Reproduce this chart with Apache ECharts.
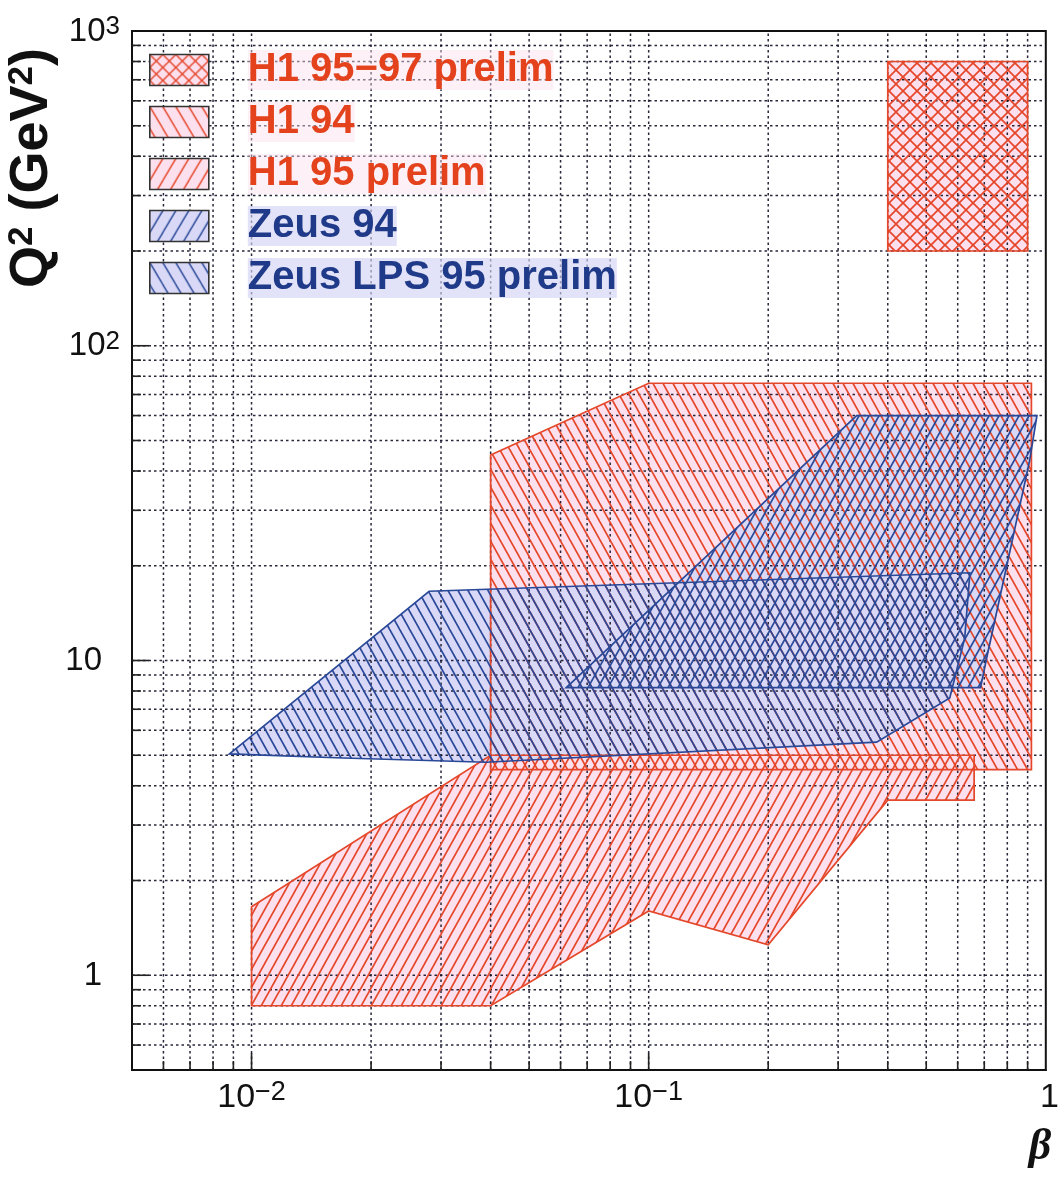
<!DOCTYPE html>
<html>
<head>
<meta charset="utf-8">
<script src="https://cdn.jsdelivr.net/npm/echarts@6/dist/echarts.min.js"></script>
<style>
  html, body { margin: 0; padding: 0; background: #ffffff; }
  #chart { width: 1062px; height: 1178px; }
</style>
</head>
<body>
<div id="chart"></div>
<script>
// Kinematic coverage of diffractive DIS measurements in the (beta, Q^2) plane.
// Each region is a closed polygon: beta values with the matching Q^2 values (GeV^2).

const h1_9597_beta = [0.4, 0.9, 0.9, 0.4];
const h1_9597_q2   = [200, 200, 800, 800];

const h1_94_beta = [0.04, 0.1, 0.92, 0.92, 0.04];
const h1_94_q2   = [45, 76, 76, 4.5, 4.5];

const h1_95_beta = [0.01, 0.04, 0.66, 0.66, 0.4, 0.2, 0.1, 0.04, 0.01];
const h1_95_q2   = [1.65, 5, 5, 3.6, 3.6, 1.25, 1.6, 0.8, 0.8];

const zeus_94_beta = [0.062, 0.334, 0.95, 0.91, 0.71, 0.685];
const zeus_94_q2   = [8.2, 60, 60, 43, 10.2, 8.2];

const zeus_lps95_beta = [0.0088, 0.028, 0.644, 0.625, 0.573, 0.375, 0.039, 0.017];
const zeus_lps95_q2   = [5.05, 16.6, 19, 11.8, 7.6, 5.5, 4.75, 4.9];

const regionNames = ['H1 95\u221297 prelim', 'H1 94', 'H1 95 prelim', 'Zeus 94', 'Zeus LPS 95 prelim'];

// Axis ranges and gridline positions
const BETA_MIN = 0.005, BETA_MAX = 1;
const Q2_MIN = 0.5, Q2_MAX = 1000;

const betaGrid = [0.006, 0.007, 0.008, 0.009,
                  0.01, 0.02, 0.03, 0.04, 0.05, 0.06, 0.07, 0.08, 0.09,
                  0.1, 0.2, 0.3, 0.4, 0.5, 0.6, 0.7, 0.8, 0.9];
const q2Grid = [0.6, 0.7, 0.8, 0.9,
                1, 2, 3, 4, 5, 6, 7, 8, 9,
                10, 20, 30, 40, 50, 60, 70, 80, 90,
                100, 200, 300, 400, 500, 600, 700, 800, 900];

// Tick labels: base and exponent
const betaTickValues = [0.01, 0.1, 1];
const betaTickBase   = ['10', '10', '1'];
const betaTickExp    = ['\u22122', '\u22121', ''];
const q2TickValues = [1, 10, 100, 1000];
const q2TickBase   = ['1', '10', '10', '10'];
const q2TickExp    = ['', '', '2', '3'];

// Colours
const RED_LINE = '#e4472a';
const BLUE_LINE = '#2a4898';
const PINK_FILL = '#fde0ee';
const LAVENDER_FILL = '#d9d9f7';
const FONT = '"Liberation Sans", Arial, Helvetica, sans-serif';

// Repeating hatch tile: 'up' = rising lines (///), 'down' = falling (\\\), 'cross' = both
function hatch(kind, color, w, h, lineWidth, bg) {
  const c = document.createElement('canvas');
  c.width = w; c.height = h;
  const g = c.getContext('2d');
  if (bg) { g.fillStyle = bg; g.fillRect(0, 0, w, h); }
  g.strokeStyle = color;
  g.lineWidth = lineWidth;
  const family = function (rising) {
    for (let k = -2; k <= 2; k++) {
      g.beginPath();
      if (rising) { g.moveTo(k * w - w, 2 * h); g.lineTo(k * w + 2 * w, -h); }
      else        { g.moveTo(k * w - w, -h);    g.lineTo(k * w + 2 * w, 2 * h); }
      g.stroke();
    }
  };
  if (kind === 'up' || kind === 'cross') family(true);
  if (kind === 'down' || kind === 'cross') family(false);
  return { image: c, repeat: 'repeat' };
}

const regions = [
  { name: regionNames[0], beta: h1_9597_beta, q2: h1_9597_q2, kind: 'cross', w: 14, h: 14, line: RED_LINE, fill: PINK_FILL },
  { name: regionNames[1], beta: h1_94_beta, q2: h1_94_q2, kind: 'down', w: 10, h: 18, line: RED_LINE, fill: PINK_FILL },
  { name: regionNames[2], beta: h1_95_beta, q2: h1_95_q2, kind: 'up', w: 10, h: 18, line: RED_LINE, fill: PINK_FILL },
  { name: regionNames[3], beta: zeus_94_beta, q2: zeus_94_q2, kind: 'up', w: 10, h: 18, line: BLUE_LINE, fill: LAVENDER_FILL },
  { name: regionNames[4], beta: zeus_lps95_beta, q2: zeus_lps95_q2, kind: 'down', w: 10, h: 18, line: BLUE_LINE, fill: LAVENDER_FILL }
];

function polygonRenderer(beta, q2, style) {
  return function (params, api) {
    if (params.dataIndex !== 0) return null;
    const pts = beta.map(function (b, i) { return api.coord([b, q2[i]]); });
    return { type: 'polygon', shape: { points: pts }, style: style };
  };
}

function verticesOf(r) { return r.beta.map(function (b, i) { return [b, r.q2[i]]; }); }

const isDecade = function (v) { const e = Math.log10(v); return Math.abs(e - Math.round(e)) < 1e-6; };
const GRID_LINE = { stroke: 'rgba(15,15,35,0.9)', lineWidth: 1.5, lineDash: [2.5, 3] };
const TICK_LINE = { stroke: '#222', lineWidth: 1.6 };

const series = [];

// Solid fills underneath everything
regions.forEach(function (r) {
  series.push({
    type: 'custom', coordinateSystem: 'cartesian2d', silent: true, z: 2,
    data: verticesOf(r),
    renderItem: polygonRenderer(r.beta, r.q2, { fill: r.fill, stroke: null })
  });
});

// Dotted grid with inward ticks
series.push({
  type: 'custom', coordinateSystem: 'cartesian2d', silent: true, z: 3,
  data: betaGrid.map(function (v) { return [v, Q2_MIN]; }),
  renderItem: function (params, api) {
    const v = api.value(0);
    const p0 = api.coord([v, Q2_MIN]);
    const p1 = api.coord([v, Q2_MAX]);
    const len = isDecade(v) ? 17 : 9;
    return { type: 'group', children: [
      { type: 'line', shape: { x1: p0[0], y1: p0[1], x2: p1[0], y2: p1[1] }, style: GRID_LINE },
      { type: 'line', shape: { x1: p0[0], y1: p0[1], x2: p0[0], y2: p0[1] - len }, style: TICK_LINE }
    ] };
  }
});
series.push({
  type: 'custom', coordinateSystem: 'cartesian2d', silent: true, z: 3,
  data: q2Grid.map(function (v) { return [BETA_MIN, v]; }),
  renderItem: function (params, api) {
    const v = api.value(1);
    const p0 = api.coord([BETA_MIN, v]);
    const p1 = api.coord([BETA_MAX, v]);
    const len = isDecade(v) ? 17 : 9;
    return { type: 'group', children: [
      { type: 'line', shape: { x1: p0[0], y1: p0[1], x2: p1[0], y2: p1[1] }, style: GRID_LINE },
      { type: 'line', shape: { x1: p0[0], y1: p0[1], x2: p0[0] + len, y2: p0[1] }, style: TICK_LINE }
    ] };
  }
});

// Hatched regions with outlines
regions.forEach(function (r) {
  series.push({
    type: 'custom', coordinateSystem: 'cartesian2d', silent: true, z: 4,
    name: r.name,
    data: verticesOf(r),
    renderItem: polygonRenderer(r.beta, r.q2, {
      fill: hatch(r.kind, r.line, r.w, r.h, 1.7, null),
      stroke: r.line, lineWidth: 1.7
    })
  });
});

function tickLabel(values, bases, exps, v, padPlain) {
  for (let i = 0; i < values.length; i++) {
    if (Math.abs(Math.log10(v) - Math.log10(values[i])) < 1e-6) {
      if (exps[i]) return '{b|' + bases[i] + '}{s|' + exps[i] + '}';
      return padPlain ? '{b|' + bases[i] + '}{p|\u00a0}' : '{s|\u00a0}{b|' + bases[i] + '}';
    }
  }
  return '';
}

const xLabelRich = {
  b: { fontFamily: FONT, fontSize: 34, color: '#111', lineHeight: 36, verticalAlign: 'bottom' },
  s: { fontFamily: FONT, fontSize: 27, color: '#111', lineHeight: 27, verticalAlign: 'top', padding: [0, 0, 24, 0] },
  p: { fontFamily: FONT, fontSize: 25, width: 18 }
};
const yLabelRich = {
  b: { fontFamily: FONT, fontSize: 33, color: '#111', lineHeight: 34, verticalAlign: 'bottom' },
  s: { fontFamily: FONT, fontSize: 26, color: '#111', lineHeight: 26, verticalAlign: 'top', padding: [0, 0, 20, 0] },
  p: { fontFamily: FONT, fontSize: 25, width: 18 }
};

const legendRich = {
  gap: { width: 34, fontSize: 20 },
  h: { fontFamily: FONT, fontSize: 40, fontWeight: 'bold', color: '#e3421d', lineHeight: 36,
       backgroundColor: 'rgba(250,222,236,0.45)' },
  z: { fontFamily: FONT, fontSize: 40, fontWeight: 'bold', color: '#1f3a88', lineHeight: 36,
       backgroundColor: 'rgba(210,210,244,0.65)' }
};

const option = {
  animation: false,
  backgroundColor: '#ffffff',
  grid: { left: 132, top: 31, width: 917, height: 1039, show: true,
          borderColor: '#111', borderWidth: 2, backgroundColor: 'transparent' },
  xAxis: {
    type: 'log', logBase: 10, min: BETA_MIN, max: BETA_MAX,
    axisLine: { show: true, lineStyle: { color: '#111', width: 2 } },
    axisTick: { show: false }, splitLine: { show: false }, minorTick: { show: false },
    axisLabel: { margin: 9, rich: xLabelRich,
      formatter: function (v) { return tickLabel(betaTickValues, betaTickBase, betaTickExp, v, false); } }
  },
  yAxis: {
    type: 'log', logBase: 10, min: Q2_MIN, max: Q2_MAX,
    axisLine: { show: true, lineStyle: { color: '#111', width: 2 } },
    axisTick: { show: false }, splitLine: { show: false }, minorTick: { show: false },
    axisLabel: { margin: 12, rich: yLabelRich,
      formatter: function (v) { return tickLabel(q2TickValues, q2TickBase, q2TickExp, v, true); } }
  },
  legend: {
    orient: 'vertical', left: 144, top: 45, itemWidth: 59, itemHeight: 31, itemGap: 12,
    selectedMode: false,
    data: regions.map(function (r) {
      return { name: r.name, icon: 'rect',
               itemStyle: { color: hatch(r.kind, r.line, 13, r.kind === 'cross' ? 13 : 22, 1.4, r.fill),
                            borderColor: '#333', borderWidth: 1.6 } };
    }),
    formatter: function (name) {
      return '{gap|\u00a0}' + (name.indexOf('Zeus') === 0 ? '{z|' : '{h|') + name + '}';
    },
    textStyle: { rich: legendRich }
  },
  graphic: [
    { type: 'text', x: 32, y: 168, rotation: Math.PI / 2, silent: true,
      style: { text: '{q|Q}{s|2}{q| (GeV}{s|2}{q|)}', align: 'center', verticalAlign: 'middle',
               rich: {
                 q: { fontFamily: FONT, fontSize: 54, fontWeight: 'bold', fill: '#111', lineHeight: 54, verticalAlign: 'bottom' },
                 s: { fontFamily: FONT, fontSize: 35, fontWeight: 'bold', fill: '#111', lineHeight: 35, verticalAlign: 'top', padding: [0, 0, 22, 0] }
               } } },
    { type: 'text', x: 1040, y: 1148, silent: true,
      style: { text: '\u03b2', align: 'center', verticalAlign: 'middle',
               font: 'italic bold 44px "Liberation Serif", "DejaVu Serif", serif', fill: '#111' } }
  ],
  series: series
};

const chart = echarts.init(document.getElementById('chart'));
chart.setOption(option);
</script>
</body>
</html>
